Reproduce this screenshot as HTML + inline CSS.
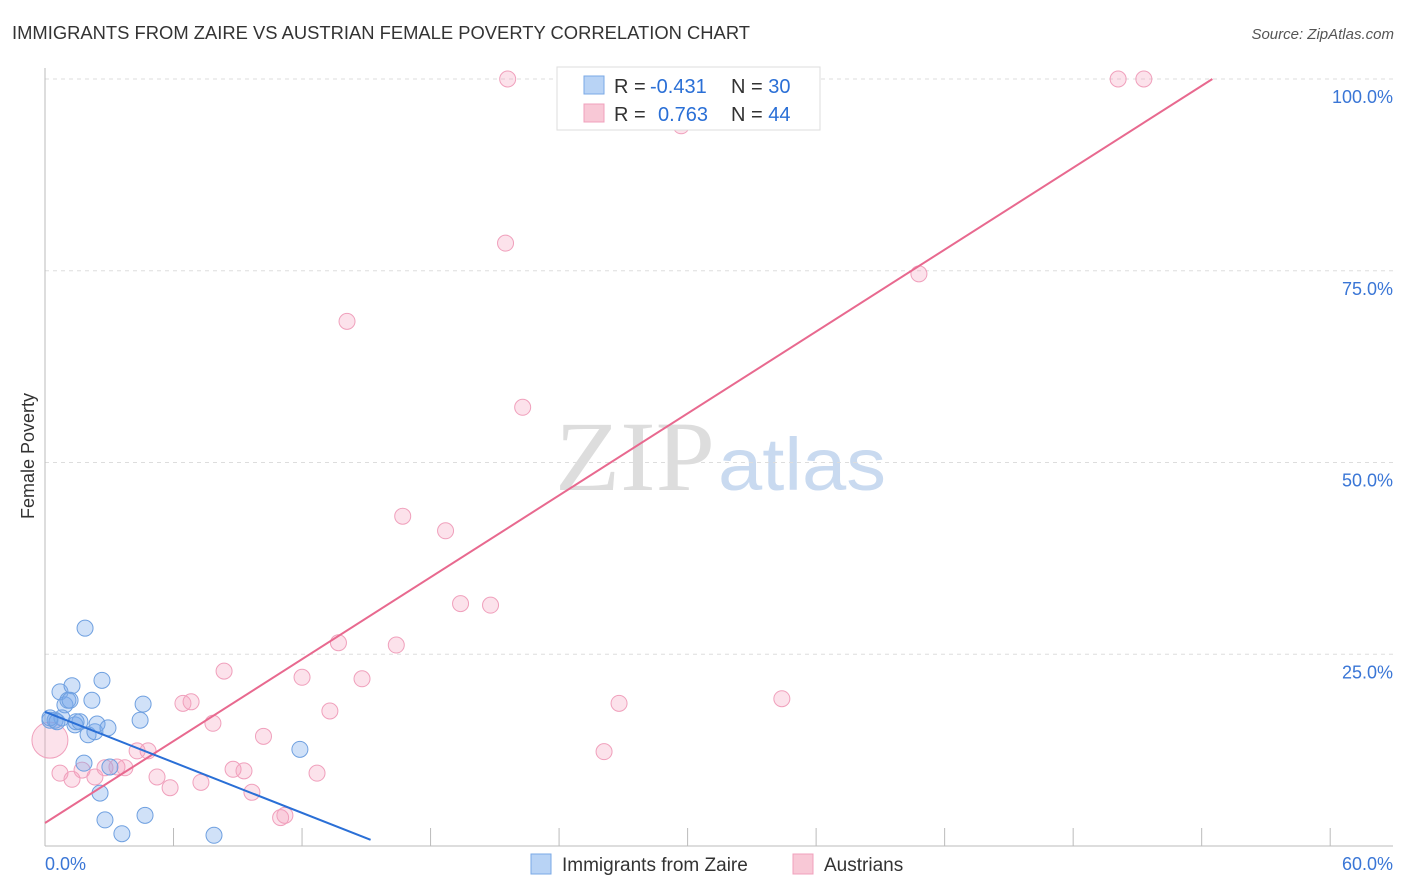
<!DOCTYPE html>
<html><head><meta charset="utf-8"><style>
body{margin:0;background:#fff;font-family:"Liberation Sans",sans-serif;}
svg{display:block}
</style></head><body>
<svg width="1406" height="892" id="chart">
<text x="12" y="39" font-size="18" fill="#333" textLength="738" lengthAdjust="spacingAndGlyphs">IMMIGRANTS FROM ZAIRE VS AUSTRIAN FEMALE POVERTY CORRELATION CHART</text>
<text x="1394" y="39" font-size="15" fill="#555" font-style="italic" text-anchor="end">Source: ZipAtlas.com</text>
<text x="34" y="456" font-size="18" fill="#333" transform="rotate(-90 34 456)" text-anchor="middle">Female Poverty</text>
<text x="555" y="490" font-size="100" fill="#ddd" textLength="160" lengthAdjust="spacingAndGlyphs" font-family="Liberation Serif">ZIP</text>
<text x="718" y="490" font-size="74" fill="#c9daf0" textLength="168" lengthAdjust="spacingAndGlyphs">atlas</text>
<g id="grid"></g><g id="marks"></g>
<g>
<rect x="557" y="67" width="263" height="63" fill="#fff" stroke="#ddd"/>
<rect x="584" y="76" width="20" height="18" fill="#b8d3f5" stroke="#7aa8e6"/>
<rect x="584" y="104" width="20" height="18" fill="#f8c8d6" stroke="#f0a0bc"/>
<text x="614" y="93" font-size="20" fill="#333">R = <tspan fill="#2a6fd6" x="650">-0.431</tspan><tspan x="731">N = </tspan><tspan fill="#2a6fd6">30</tspan></text>
<text x="614" y="121" font-size="20" fill="#333">R =  <tspan fill="#2a6fd6" x="658">0.763</tspan><tspan x="731">N = </tspan><tspan fill="#2a6fd6">44</tspan></text>
</g>
<g>
<rect x="531" y="854" width="20" height="20" fill="#b8d3f5" stroke="#7aa8e6"/>
<text x="562" y="871" font-size="19" fill="#333">Immigrants from Zaire</text>
<rect x="793" y="854" width="20" height="20" fill="#f8c8d6" stroke="#f0a0bc"/>
<text x="824" y="871" font-size="19" fill="#333">Austrians</text>
</g>
</svg>
<script>
const yTicks=[100,75,50,25];
const yTickLabels=["100.0%","75.0%","50.0%","25.0%"];
const xEndLabels=["0.0%","60.0%"];
const blueX=[0.23,0.47,0.70,0.93,1.07,1.26,0.79,1.40,1.63,1.87,2.01,2.19,2.33,2.43,2.66,2.94,3.03,2.57,2.80,3.59,4.44,4.58,4.67,7.89,11.9,1.82,0.23,0.56,1.17,1.45];
const blueY=[16.4,16.4,20.1,18.4,19.0,20.9,16.7,15.8,16.2,28.4,14.5,19.0,14.9,15.9,21.6,15.4,10.3,6.9,3.4,1.6,16.4,18.5,4.0,1.4,12.6,10.8,16.7,16.2,19.0,16.2];
const pinkX=[21.6,50.1,51.3,29.7,21.5,14.1,40.8,22.3,16.7,18.7,19.4,20.8,13.7,16.4,8.36,12.0,14.8,6.44,6.82,13.3,26.8,34.4,7.84,10.2,4.81,4.30,26.1,0.70,1.26,2.33,1.73,2.80,3.36,3.73,5.23,5.84,7.28,8.78,9.29,9.66,12.7,11.0,11.2,0.23];
const pinkY=[100,100,100,93.9,78.6,68.4,74.6,57.2,43.0,41.1,31.6,31.4,26.5,26.2,22.8,22.0,21.8,18.6,18.8,17.6,18.6,19.2,16.0,14.3,12.4,12.4,12.3,9.5,8.7,9.0,9.9,10.2,10.3,10.2,9.0,7.6,8.3,10.0,9.8,7.0,9.5,3.7,4.0,13.8];
const blueLine=[[0,17.5],[15.2,0.8]];
const pinkLine=[[0,3.0],[54.5,100]];
const xs=v=>45+v*21.42, ys=v=>846-v*7.67;
const NS="http://www.w3.org/2000/svg";
const grid=document.getElementById('grid'), marks=document.getElementById('marks');
function mk(tag,attrs,parent){const e=document.createElementNS(NS,tag);for(const k in attrs)e.setAttribute(k,attrs[k]);parent.appendChild(e);return e;}
yTicks.forEach((t,i)=>{
 const l=mk('line',{x1:45,x2:1393,y1:ys(t),y2:ys(t),stroke:'#ddd','stroke-dasharray':'4,4'},grid);
 
 
 const tx=mk('text',{x:1393,y:ys(t)+24,'font-size':18,fill:'#3a76d6','text-anchor':'end'},grid);
 tx.textContent=yTickLabels[i];
 
 
});
const ax=mk('line',{x1:45,x2:45,y1:68,y2:846,stroke:'#bbb'},grid);


const bx=mk('line',{x1:45,x2:1393,y1:846,y2:846,stroke:'#bbb'},grid);


for(let i=0;i<=10;i++){const t=mk('line',{x1:xs(i*6),x2:xs(i*6),y1:828,y2:846,stroke:'#bbb'},grid);
 
 }
const xl0=mk('text',{x:45,y:870,'font-size':18,fill:'#3a76d6'},grid);xl0.textContent=xEndLabels[0];


const xl1=mk('text',{x:1393,y:870,'font-size':18,fill:'#3a76d6','text-anchor':'end'},grid);xl1.textContent=xEndLabels[1];


pinkX.forEach((x,i)=>{const c=mk('circle',{cx:xs(x),cy:ys(pinkY[i]),r:i==pinkX.length-1?18:8,fill:'rgba(244,160,190,0.3)',stroke:'#f0a0bc','stroke-width':1},marks);
 
 });
blueX.forEach((x,i)=>{const c=mk('circle',{cx:xs(x),cy:ys(blueY[i]),r:8,fill:'rgba(120,170,235,0.35)',stroke:'#6fa0e0','stroke-width':1},marks);
 
 });
const pl=mk('line',{x1:xs(pinkLine[0][0]),y1:ys(pinkLine[0][1]),x2:xs(pinkLine[1][0]),y2:ys(pinkLine[1][1]),stroke:'#e8698f','stroke-width':2},marks);


const bl=mk('line',{x1:xs(blueLine[0][0]),y1:ys(blueLine[0][1]),x2:xs(blueLine[1][0]),y2:ys(blueLine[1][1]),stroke:'#2a6fd6','stroke-width':2},marks);


</script>
</body></html>
